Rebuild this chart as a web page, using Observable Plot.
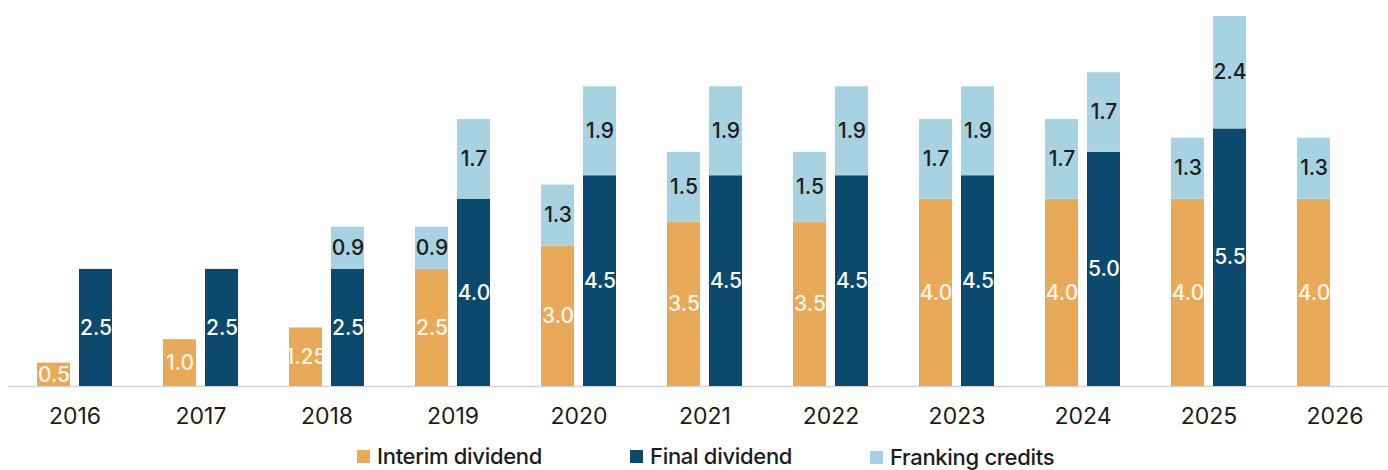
<!DOCTYPE html>
<html>
<head>
<meta charset="utf-8">
<script src="https://cdn.jsdelivr.net/npm/d3@7"></script>
<script src="https://cdn.jsdelivr.net/npm/@observablehq/plot@0.6"></script>
<style>
  body { margin: 0; background: #fff; font-family: Inter, "Liberation Sans", sans-serif; }
  #wrap { position: relative; width: 1388px; height: 470px; overflow: hidden; }
  #legend { position: absolute; left: 0; top: 440px; width: 1388px; height: 30px; }
  .item { position: absolute; display: flex; align-items: center; font-size: 22px; line-height: 22px; font-weight: 500; color: #1c1c1c; letter-spacing: -0.3px; white-space: nowrap; }
  .sw { width: 13px; height: 13px; margin-right: 7px; }
</style>
</head>
<body>
<div id="wrap">
  <div id="chart"></div>
  <div id="legend"></div>
</div>
<script>
const years = ["2016","2017","2018","2019","2020","2021","2022","2023","2024","2025","2026"];
const interim = [0.5, 1.0, 1.25, 2.5, 3.0, 3.5, 3.5, 4.0, 4.0, 4.0, 4.0];
const finalDiv = [2.5, 2.5, 2.5, 4.0, 4.5, 4.5, 4.5, 4.5, 5.0, 5.5, null];
const interimFranking = [null, null, null, 0.9, 1.3, 1.5, 1.5, 1.7, 1.7, 1.3, 1.3];
const finalFranking = [null, null, 0.9, 1.7, 1.9, 1.9, 1.9, 1.9, 1.7, 2.4, null];
const seriesNames = ["Interim dividend", "Final dividend", "Franking credits"];
const colors = ["#e8a958", "#0b4a6e", "#a7d2e1"];
const labelColors = ["#fff6e8", "#ffffff", "#1c1c1c"];

const fmt = v => (Math.round(v * 10) === v * 10 ? v.toFixed(1) : v.toFixed(2));

// build stacked rows
const rows = [];
years.forEach((year, i) => {
  const slots = [
    {slot: "interim", base: interim[i], fr: interimFranking[i], baseSeries: seriesNames[0]},
    {slot: "final", base: finalDiv[i], fr: finalFranking[i], baseSeries: seriesNames[1]}
  ];
  for (const s of slots) {
    if (s.base == null) continue;
    rows.push({year, slot: s.slot, series: s.baseSeries, y1: 0, y2: s.base, value: s.base});
    if (s.fr != null) rows.push({year, slot: s.slot, series: seriesNames[2], y1: s.base, y2: s.base + s.fr, value: s.fr});
  }
});
const interimRows = rows.filter(d => d.slot === "interim");
const finalRows = rows.filter(d => d.slot === "final");

const colorScale = {domain: seriesNames, range: colors};
const labelFill = d => labelColors[seriesNames.indexOf(d.series)];

const chart = Plot.plot({
  width: 1388,
  height: 440,
  marginLeft: 8,
  marginRight: 0,
  marginTop: 16,
  marginBottom: 54,
  style: {fontFamily: "Inter, 'Liberation Sans', sans-serif", fontSize: "23px", color: "#1c1c1c", background: "#fff"},
  x: {domain: years, paddingInner: 0.3265, paddingOuter: 0.1307, align: 0.697, tickSize: 0, tickPadding: 21, label: null},
  y: {domain: [0, 7.9], axis: null},
  color: colorScale,
  marks: [
    Plot.ruleY([0], {stroke: "#d4d4d4", strokeWidth: 1.5}),
    Plot.rectY(interimRows, {x: "year", y1: "y1", y2: "y2", fill: "series", insetLeft: 5, insetRight: 47}),
    Plot.rectY(finalRows, {x: "year", y1: "y1", y2: "y2", fill: "series", insetLeft: 47, insetRight: 5}),
    Plot.text(interimRows, {x: "year", y: d => (d.y1 + d.y2) / 2, text: d => fmt(d.value), fill: labelFill, dx: -21, fontSize: 21, fontWeight: 500, letterSpacing: -0.5}),
    Plot.text(finalRows, {x: "year", y: d => (d.y1 + d.y2) / 2, text: d => fmt(d.value), fill: labelFill, dx: 21, fontSize: 21, fontWeight: 500, letterSpacing: -0.5})
  ]
});
document.getElementById("chart").appendChild(chart);

// legend
const legendPos = [{left: 357, top: 5}, {left: 630, top: 5}, {left: 870, top: 6}];
const legend = document.getElementById("legend");
seriesNames.forEach((name, i) => {
  const it = document.createElement("div");
  it.className = "item";
  it.style.left = legendPos[i].left + "px";
  it.style.top = legendPos[i].top + "px";
  const sw = document.createElement("span");
  sw.className = "sw";
  sw.style.background = colors[i];
  const tx = document.createElement("span");
  tx.textContent = name;
  it.appendChild(sw);
  it.appendChild(tx);
  legend.appendChild(it);
});
</script>
</body>
</html>
